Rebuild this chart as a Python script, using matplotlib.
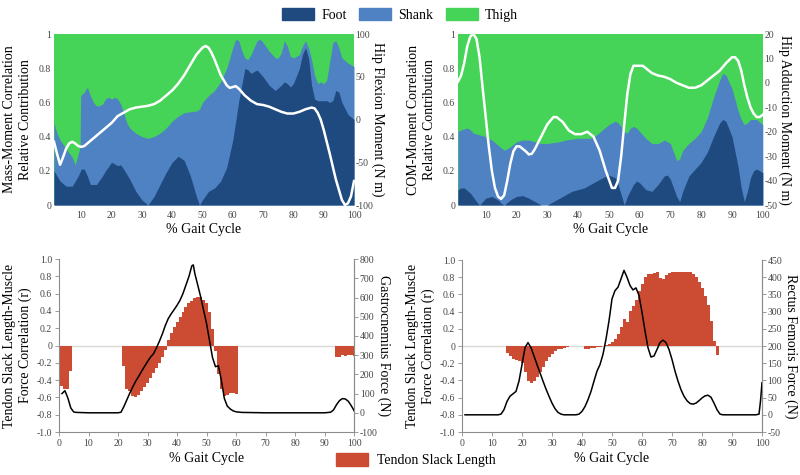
import numpy as np
import matplotlib.pyplot as plt
from matplotlib.patches import Patch

plt.rcParams['font.family'] = ['Liberation Serif', 'DejaVu Serif']
plt.rcParams['axes.unicode_minus'] = False

# colours
c_foot = '#1F4A80'
c_shank = '#4F82C2'
c_thigh = '#45D458'
c_bar = '#CC4B33'

# ---- top-left: mass-moment correlation, hip flexion moment ----
tl_foot_x = [1, 3, 5, 7, 9, 10, 11, 12, 13, 15, 17, 18, 20, 22, 23, 24, 26, 28, 30, 32,
             34, 36, 38, 40, 42, 44, 46, 48, 49, 50, 52, 54, 56, 58, 60, 62, 64, 65, 66, 68,
             70, 72, 74, 76, 77, 78, 79, 80, 82, 83, 84, 85, 86, 87, 88, 91, 92, 93, 94, 95,
             96, 98, 100]
tl_foot = [0.20, 0.14, 0.11, 0.11, 0.17, 0.21, 0.21, 0.17, 0.12, 0.12, 0.17, 0.20, 0.25, 0.23,
           0.235, 0.21, 0.15, 0.08, 0.03, 0.0, 0.05, 0.12, 0.19, 0.25, 0.285, 0.26, 0.17, 0.05,
           0.0, 0.03, 0.08, 0.10, 0.14, 0.22, 0.38, 0.61, 0.80, 0.79, 0.77, 0.79, 0.75, 0.70,
           0.67, 0.70, 0.72, 0.71, 0.69, 0.71, 0.80, 0.88, 0.92, 0.86, 0.70, 0.62, 0.61, 0.61,
           0.60, 0.61, 0.67, 0.66, 0.60, 0.53, 0.50]
# top of the shank layer (foot + shank)
tl_shank_x = [1, 2, 3, 5, 7, 8, 9, 9.6, 9.8, 11, 12, 13, 14, 15, 16, 17, 18, 19, 20, 21,
              22, 23, 24, 25, 26, 28, 30, 32, 34, 36, 38, 40, 42, 44, 46, 48, 49, 50, 52, 54,
              56, 58, 60, 61, 62, 63, 64, 65, 66, 68, 69, 70, 72, 74, 75, 76, 77, 78, 79, 80,
              82, 83, 84, 85, 86, 87, 88, 89, 90, 91, 92, 93, 94, 95, 96, 98, 100]
tl_shank = [0.48, 0.42, 0.38, 0.33, 0.28, 0.235, 0.30, 0.34, 0.64, 0.66, 0.69, 0.64, 0.60, 0.58,
            0.58, 0.59, 0.62, 0.63, 0.62, 0.63, 0.62, 0.59, 0.54, 0.48, 0.45, 0.42, 0.40, 0.39,
            0.40, 0.42, 0.45, 0.49, 0.52, 0.54, 0.545, 0.55, 0.56, 0.60, 0.64, 0.67, 0.72, 0.80,
            0.92, 0.97, 0.96, 0.90, 0.86, 0.85, 0.88, 0.96, 0.97, 0.95, 0.90, 0.86, 0.86, 0.89,
            0.96, 0.93, 0.87, 0.86, 0.88, 0.93, 0.96, 0.92, 0.85, 0.76, 0.71, 0.72, 0.71, 0.73,
            0.84, 0.95, 0.96, 0.92, 0.86, 0.83, 0.81]
tl_mom_x = [1, 2, 3, 4, 5, 6, 7, 8, 9, 10, 11, 12, 14, 16, 18, 20, 22, 24, 26, 28, 30, 32, 34,
            36, 38, 40, 42, 44, 46, 48, 50, 51, 52, 53, 54, 56, 58, 59, 60, 61, 62, 64, 66, 68,
            70, 72, 74, 76, 78, 80, 82, 84, 86, 87, 88, 89, 90, 92, 94, 96, 97, 98, 99, 100]
tl_mom = [-26, -40, -53, -44, -34, -28, -26, -28, -31, -32, -31, -28, -22, -16, -10, -4, 4, 8,
          12, 14, 15, 16, 18, 22, 28, 34, 42, 52, 64, 76, 84, 86, 84, 78, 70, 52, 40, 37, 38, 39,
          36, 28, 22, 18, 17, 15, 12, 9, 7, 7, 9, 12, 14, 13, 8, 0, -12, -40, -70, -94, -100,
          -98, -90, -72]

# ---- top-right: COM-moment correlation, hip adduction moment ----
tr_foot_x = [1, 2, 3, 5, 7, 8, 10, 12, 14, 15, 16, 18, 20, 22, 24, 26, 28, 30, 32, 34, 36, 38,
             40, 42, 44, 46, 48, 50, 52, 53, 54, 55, 56, 58, 59, 60, 62, 64, 66, 68, 69, 70, 72,
             73, 74, 76, 78, 80, 82, 84, 86, 87, 88, 90, 92, 93, 94, 95, 96, 97, 98, 100]
tr_foot = [0.09, 0.10, 0.10, 0.07, 0.02, 0.0, 0.04, 0.05, 0.03, 0.01, 0.0, 0.03, 0.05, 0.055,
           0.04, 0.02, 0.0, 0.0, 0.02, 0.04, 0.06, 0.08, 0.09, 0.10, 0.12, 0.14, 0.16, 0.175,
           0.16, 0.12, 0.06, 0.0, 0.05, 0.12, 0.14, 0.13, 0.09, 0.08, 0.12, 0.17, 0.175, 0.15,
           0.05, 0.02, 0.08, 0.17, 0.21, 0.25, 0.31, 0.40, 0.48, 0.50, 0.49, 0.40, 0.22, 0.10,
           0.02, 0.08, 0.16, 0.20, 0.21, 0.19]
tr_shank_x = [1, 2, 4, 5, 6, 8, 10, 12, 14, 16, 18, 20, 22, 24, 26, 28, 30, 32, 34, 36, 38, 40,
              42, 44, 46, 48, 50, 52, 53, 54, 55, 56, 57, 58, 59, 60, 62, 64, 66, 68, 70, 71, 72,
              73, 74, 76, 78, 80, 82, 84, 86, 87, 88, 90, 92, 93, 94, 95, 96, 98, 100]
tr_shank = [0.43, 0.44, 0.45, 0.44, 0.42, 0.41, 0.40, 0.38, 0.35, 0.32, 0.34, 0.37, 0.38, 0.38,
            0.37, 0.36, 0.36, 0.365, 0.37, 0.38, 0.385, 0.39, 0.39, 0.39, 0.41, 0.44, 0.47, 0.49,
            0.48, 0.46, 0.43, 0.42, 0.45, 0.46, 0.45, 0.43, 0.39, 0.36, 0.36, 0.38, 0.36, 0.31,
            0.26, 0.27, 0.32, 0.36, 0.39, 0.43, 0.51, 0.63, 0.73, 0.77, 0.76, 0.68, 0.55, 0.50,
            0.47, 0.48, 0.50, 0.50, 0.47]
tr_mom_x = list(range(1, 27)) + [28, 30, 32, 33, 35, 37, 39, 41, 43, 45, 47, 49, 51, 52, 53,
                                 54, 55, 56, 57, 58, 60, 61, 62, 64, 66, 68, 70, 72, 74, 76,
                                 78, 80, 82, 84, 86, 88, 90, 91, 92, 93, 94, 95, 96, 97, 98,
                                 99, 100]
tr_mom = [0.5, 3, 8, 15, 19, 20, 18, 10.5, -2, -14, -26, -36, -43, -46.5, -47.5, -46, -40, -33,
          -28, -26, -26, -27, -28, -29.3, -29, -27, -22, -17, -14, -14, -16, -19.5, -21, -21,
          -20, -22, -27.7, -36, -43, -43, -40, -30, -17, -4.5, 3.6, 7, 7, 7, 6, 4, 3, 2.5, 1.5,
          0, -1, -2, -2, -1, 1, 3, 5, 8, 10.5, 10.5, 9, 5, -1, -6, -10, -12.5, -14, -14, -13]

# ---- bottom-left: gastrocnemius ----
bl_bar_x = [0, 1, 2, 3, 4] + list(range(22, 61)) + list(range(93, 101))
bl_bar = [-0.45, -0.47, -0.50, -0.50, -0.29,
          -0.24, -0.50, -0.53, -0.58, -0.59, -0.57, -0.53, -0.48, -0.43, -0.38, -0.32, -0.26,
          -0.20, -0.13, -0.05,
          0.06, 0.14, 0.21, 0.27, 0.33, 0.39, 0.45, 0.49, 0.52, 0.55, 0.565, 0.565, 0.53, 0.49,
          0.39, 0.19,
          -0.06, -0.33, -0.50, -0.58, -0.57, -0.55, -0.55, -0.56,
          -0.01, -0.13, -0.13, -0.11, -0.12, -0.11, -0.11, -0.12]
bl_force_x = [1, 2, 3, 4, 5, 6, 10, 15, 20] + list(range(21, 46)) + [45.5] + \
    list(range(46, 61)) + [62, 70, 80, 90] + list(range(92, 101))
bl_force = [100, 115, 77, 25, 4, 2, 0, 0, 0,
            3, 33, 68, 103, 135, 165, 190, 217, 242, 267, 290, 307, 337, 372, 410, 454, 490,
            515, 537, 560, 586, 621, 665, 709, 765, 770,
            726, 665, 603, 533, 463, 375, 288, 240, 245, 170, 75, 35, 20, 10, 5,
            2, 0, 0, 0, 3, 15, 42, 63, 74, 72, 60, 37, 10]

# ---- bottom-right: rectus femoris ----
br_bar_x = list(range(15, 36)) + list(range(41, 48)) + list(range(48, 86))
br_bar = [-0.08, -0.12, -0.15, -0.16, -0.17, -0.20, -0.30, -0.41, -0.43, -0.41, -0.36, -0.30,
          -0.24, -0.18, -0.13, -0.09, -0.06, -0.04, -0.03, -0.02, -0.01,
          -0.03, -0.03, -0.025, -0.02, -0.015, -0.01, -0.005,
          0.01, 0.02, 0.05, 0.08, 0.14, 0.22, 0.31, 0.28, 0.41, 0.46, 0.54, 0.64, 0.72, 0.80,
          0.84, 0.84, 0.845, 0.86, 0.79, 0.78, 0.83, 0.845, 0.855, 0.855, 0.855, 0.855, 0.855,
          0.855, 0.855, 0.835, 0.80, 0.75, 0.67, 0.58, 0.48, 0.29, 0.06, -0.10]
br_force_x = [1, 12] + list(range(13, 35)) + list(range(38, 88)) + [98, 99, 99.5, 100]
br_force = [0, 0,
            2, 15, 39, 54, 61, 68, 98, 146, 195, 210, 195, 171, 146, 122, 98, 75, 54, 34, 18, 7,
            2, 0,
            0, 2, 10, 24, 44, 68, 98, 127, 146, 176, 220, 273, 337, 361, 371, 395, 420, 400, 376,
            363, 369, 347, 298, 244, 195, 168, 171, 190, 210, 217, 210, 190, 161, 127, 98, 73,
            54, 41, 33, 31, 34, 41, 49, 55, 57, 51, 34, 15, 2, 0,
            0, 2, 40, 93]

# tick labels
top_xticks = [10, 20, 30, 40, 50, 60, 70, 80, 90, 100]
top_yticks = [0, 0.2, 0.4, 0.6, 0.8, 1]
top_ylabels = ['0', '0.2', '0.4', '0.6', '0.8', '1']
bot_xticks = [0, 10, 20, 30, 40, 50, 60, 70, 80, 90, 100]
bot_yticks = [-1.0, -0.8, -0.6, -0.4, -0.2, 0, 0.2, 0.4, 0.6, 0.8, 1.0]
bot_ylabels = ['-1.0', '-0.8', '-0.6', '-0.4', '-0.2', '0', '0.2', '0.4', '0.6', '0.8', '1.0']

tick_col = '#444444'
spine_col = '#8C8C8C'
lab_fs = 10
tick_fs = 7


def top_panel(rect, foot_x, foot, shank_x, shank, mom_x, mom, mlim, mticks, ylab, rlab, rpad):
    ax = fig.add_axes(rect)
    ax.fill_between([1, 100], 0, 1, color=c_thigh, lw=0)
    ax.fill_between(shank_x, 0, shank, color=c_shank, lw=0)
    ax.fill_between(foot_x, 0, foot, color=c_foot, lw=0)
    ax.set_xlim(1, 100)
    ax.set_ylim(0, 1)
    ax.set_xticks(top_xticks)
    ax.set_yticks(top_yticks)
    ax.set_yticklabels(top_ylabels)
    for s in ax.spines.values():
        s.set_visible(False)
    ax.tick_params(length=0, labelsize=tick_fs, labelcolor=tick_col, pad=2)
    ax.tick_params(axis='x', pad=4.5)
    ax.set_xlabel('% Gait Cycle', fontsize=lab_fs, labelpad=2)
    ax.set_ylabel(ylab, fontsize=lab_fs, linespacing=1.3, labelpad=5)
    ax2 = ax.twinx()
    ax2.plot(mom_x, mom, color='white', lw=1.8, clip_on=False)
    ax2.set_ylim(*mlim)
    ax2.set_yticks(mticks)
    for s in ax2.spines.values():
        s.set_visible(False)
    ax2.tick_params(length=0, labelsize=tick_fs, labelcolor=tick_col, pad=1)
    ax2.set_ylabel(rlab, fontsize=lab_fs, rotation=270, labelpad=rpad)
    return ax


def bottom_panel(rect, bar_x, bar, force_x, force, flim, fticks, rlab, rpad):
    ax = fig.add_axes(rect)
    ax.axhline(0, color='#D9D9D9', lw=1.0, zorder=1)
    ax.bar(bar_x, bar, width=1.0, color=c_bar, lw=0, zorder=2)
    ax.set_xlim(0, 100)
    ax.set_ylim(-1, 1)
    ax.set_xticks(bot_xticks)
    ax.set_yticks(bot_yticks)
    ax.set_yticklabels(bot_ylabels)
    ax.spines['top'].set_visible(False)
    for k in ['left', 'bottom', 'right']:
        ax.spines[k].set_color(spine_col)
        ax.spines[k].set_linewidth(0.8)
    ax.tick_params(length=3, width=0.6, color=spine_col, labelsize=tick_fs,
                   labelcolor=tick_col, pad=2)
    ax.set_xlabel('% Gait Cycle', fontsize=lab_fs, labelpad=3)
    ax.set_ylabel('Tendon Slack Length-Muscle\nForce Correlation (r)', fontsize=lab_fs,
                  linespacing=1.3, labelpad=3)
    ax2 = ax.twinx()
    ax2.plot(force_x, force, color='black', lw=1.1, zorder=3)
    ax2.set_ylim(*flim)
    ax2.set_yticks(fticks)
    for s in ax2.spines.values():
        s.set_visible(False)
    ax2.spines['right'].set_visible(True)
    ax2.spines['right'].set_color(spine_col)
    ax2.spines['right'].set_linewidth(0.8)
    ax2.tick_params(length=3, width=0.6, color=spine_col, labelsize=tick_fs,
                    labelcolor=tick_col, pad=1)
    ax2.set_ylabel(rlab, fontsize=lab_fs, rotation=270, labelpad=rpad)
    return ax


fig = plt.figure(figsize=(8, 4.75), dpi=100)

top_panel([0.0675, 0.5684, 0.375, 0.36], tl_foot_x, tl_foot, tl_shank_x, tl_shank,
          tl_mom_x, tl_mom, (-100, 100), [-100, -50, 0, 50, 100],
          'Mass-Moment Correlation\nRelative Contribution', 'Hip Flexion Moment (N m)', 8)
top_panel([0.5725, 0.5684, 0.381, 0.36], tr_foot_x, tr_foot, tr_shank_x, tr_shank,
          tr_mom_x, tr_mom, (-50, 20), [-50, -40, -30, -20, -10, 0, 10, 20],
          'COM-Moment Correlation\nRelative Contribution', 'Hip Adduction Moment (N m)', 10)
bottom_panel([0.07375, 0.0905, 0.369, 0.364], bl_bar_x, bl_bar, bl_force_x, bl_force,
             (-100, 800), list(range(-100, 801, 100)), 'Gastrocnemius Force (N)', 9)
bottom_panel([0.5775, 0.0905, 0.375, 0.3621], br_bar_x, br_bar, br_force_x, br_force,
             (-50, 450), list(range(-50, 451, 50)), 'Rectus Femoris Force (N)', 11)

top_handles = [Patch(color=c_foot, label='Foot'), Patch(color=c_shank, label='Shank'),
               Patch(color=c_thigh, label='Thigh')]
fig.legend(handles=top_handles, loc='upper center', bbox_to_anchor=(0.5, 1.01), ncol=3,
           frameon=False, fontsize=10, handlelength=2.3, handleheight=1.0,
           handletextpad=0.5, columnspacing=0.9)
fig.legend(handles=[Patch(color=c_bar, label='Tendon Slack Length')], loc='lower center',
           bbox_to_anchor=(0.52, -0.01), frameon=False, fontsize=10, handlelength=2.3,
           handleheight=1.0, handletextpad=0.6)

fig.savefig('out.png', dpi=100)
